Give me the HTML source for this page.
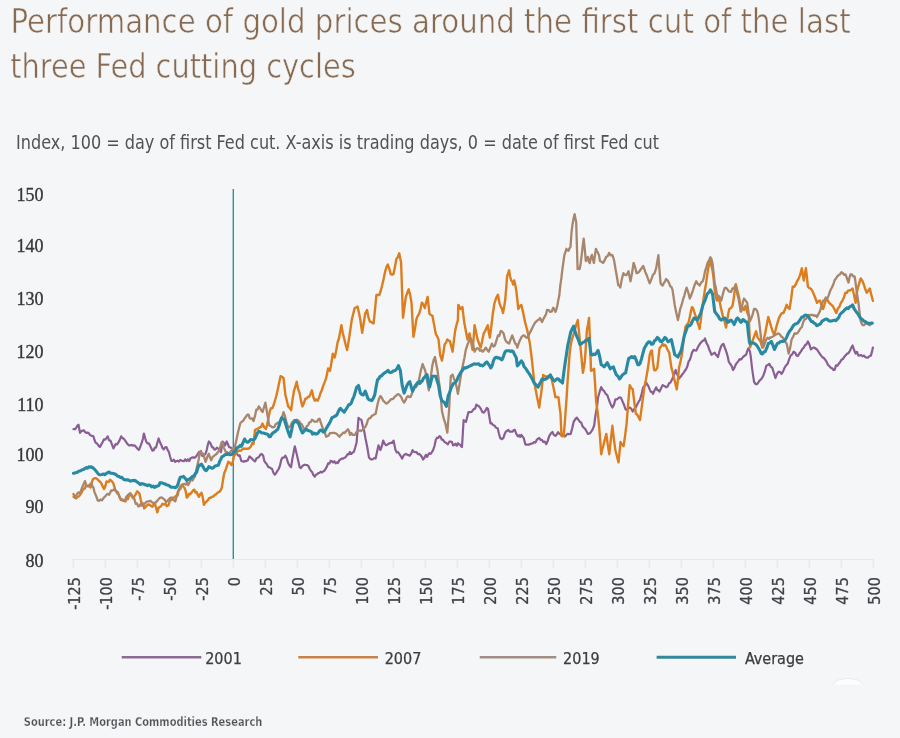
<!DOCTYPE html>
<html><head><meta charset="utf-8"><title>Performance of gold prices around the first cut of the last three Fed cutting cycles</title>
<style>
html,body{margin:0;padding:0;background:#f5f6f8;}
body{width:900px;height:738px;overflow:hidden;}
svg{display:block;}
text{font-family:"Liberation Sans",Arial,sans-serif;}
.ser{font-family:"Liberation Serif","Times New Roman",serif;}
.ttl{font-family:"DejaVu Sans Condensed","DejaVu Sans","Liberation Sans",sans-serif;font-stretch:condensed;}
</style></head><body>
<svg width="900" height="738" viewBox="0 0 900 738">
<rect x="0" y="0" width="900" height="738" fill="#f5f6f8"/>
<text x="10.6" y="32.6" class="ttl" font-size="33" fill="#876a50" stroke="#f5f6f8" stroke-width="0.55" textLength="840" lengthAdjust="spacingAndGlyphs">Performance of gold prices around the first cut of the last</text>
<text x="10.2" y="77.7" class="ttl" font-size="33" fill="#876a50" stroke="#f5f6f8" stroke-width="0.55" textLength="345.5" lengthAdjust="spacingAndGlyphs">three Fed cutting cycles</text>
<text x="16" y="149" class="ttl" font-size="19" fill="#505256" textLength="643" lengthAdjust="spacingAndGlyphs">Index, 100 = day of first Fed cut. X-axis is trading days, 0 = date of first Fed cut</text>

<text class="ser" x="43.6" y="201.3" font-size="18" fill="#36373a" stroke="#36373a" stroke-width="0.35" text-anchor="end">150</text>
<text class="ser" x="43.6" y="252.2" font-size="18" fill="#36373a" stroke="#36373a" stroke-width="0.35" text-anchor="end">140</text>
<text class="ser" x="43.6" y="304.7" font-size="18" fill="#36373a" stroke="#36373a" stroke-width="0.35" text-anchor="end">130</text>
<text class="ser" x="43.6" y="357.5" font-size="18" fill="#36373a" stroke="#36373a" stroke-width="0.35" text-anchor="end">120</text>
<text class="ser" x="43.6" y="410.9" font-size="18" fill="#36373a" stroke="#36373a" stroke-width="0.35" text-anchor="end">110</text>
<text class="ser" x="43.6" y="460.8" font-size="18" fill="#36373a" stroke="#36373a" stroke-width="0.35" text-anchor="end">100</text>
<text class="ser" x="43.6" y="513.3" font-size="18" fill="#36373a" stroke="#36373a" stroke-width="0.35" text-anchor="end">90</text>
<text class="ser" x="43.6" y="566.7" font-size="18" fill="#36373a" stroke="#36373a" stroke-width="0.35" text-anchor="end">80</text>
<line x1="72.5" y1="559.5" x2="873.5" y2="559.5" stroke="#e6e8ec" stroke-width="1.2"/>
<line x1="73.3" y1="559.5" x2="73.3" y2="567.5" stroke="#e8eaee" stroke-width="1.6"/>
<text class="ttl" transform="translate(79.7,577.2) rotate(-90)" font-size="16" fill="#404246" stroke="#404246" stroke-width="0.3" text-anchor="end">-125</text>
<line x1="105.3" y1="559.5" x2="105.3" y2="567.5" stroke="#e8eaee" stroke-width="1.6"/>
<text class="ttl" transform="translate(111.7,577.2) rotate(-90)" font-size="16" fill="#404246" stroke="#404246" stroke-width="0.3" text-anchor="end">-100</text>
<line x1="137.3" y1="559.5" x2="137.3" y2="567.5" stroke="#e8eaee" stroke-width="1.6"/>
<text class="ttl" transform="translate(143.7,577.2) rotate(-90)" font-size="16" fill="#404246" stroke="#404246" stroke-width="0.3" text-anchor="end">-75</text>
<line x1="169.3" y1="559.5" x2="169.3" y2="567.5" stroke="#e8eaee" stroke-width="1.6"/>
<text class="ttl" transform="translate(175.7,577.2) rotate(-90)" font-size="16" fill="#404246" stroke="#404246" stroke-width="0.3" text-anchor="end">-50</text>
<line x1="201.3" y1="559.5" x2="201.3" y2="567.5" stroke="#e8eaee" stroke-width="1.6"/>
<text class="ttl" transform="translate(207.7,577.2) rotate(-90)" font-size="16" fill="#404246" stroke="#404246" stroke-width="0.3" text-anchor="end">-25</text>
<line x1="233.3" y1="559.5" x2="233.3" y2="567.5" stroke="#e8eaee" stroke-width="1.6"/>
<text class="ttl" transform="translate(239.7,577.2) rotate(-90)" font-size="16" fill="#404246" stroke="#404246" stroke-width="0.3" text-anchor="end">0</text>
<line x1="265.3" y1="559.5" x2="265.3" y2="567.5" stroke="#e8eaee" stroke-width="1.6"/>
<text class="ttl" transform="translate(271.7,577.2) rotate(-90)" font-size="16" fill="#404246" stroke="#404246" stroke-width="0.3" text-anchor="end">25</text>
<line x1="297.3" y1="559.5" x2="297.3" y2="567.5" stroke="#e8eaee" stroke-width="1.6"/>
<text class="ttl" transform="translate(303.7,577.2) rotate(-90)" font-size="16" fill="#404246" stroke="#404246" stroke-width="0.3" text-anchor="end">50</text>
<line x1="329.3" y1="559.5" x2="329.3" y2="567.5" stroke="#e8eaee" stroke-width="1.6"/>
<text class="ttl" transform="translate(335.7,577.2) rotate(-90)" font-size="16" fill="#404246" stroke="#404246" stroke-width="0.3" text-anchor="end">75</text>
<line x1="361.3" y1="559.5" x2="361.3" y2="567.5" stroke="#e8eaee" stroke-width="1.6"/>
<text class="ttl" transform="translate(367.7,577.2) rotate(-90)" font-size="16" fill="#404246" stroke="#404246" stroke-width="0.3" text-anchor="end">100</text>
<line x1="393.3" y1="559.5" x2="393.3" y2="567.5" stroke="#e8eaee" stroke-width="1.6"/>
<text class="ttl" transform="translate(399.7,577.2) rotate(-90)" font-size="16" fill="#404246" stroke="#404246" stroke-width="0.3" text-anchor="end">125</text>
<line x1="425.3" y1="559.5" x2="425.3" y2="567.5" stroke="#e8eaee" stroke-width="1.6"/>
<text class="ttl" transform="translate(431.7,577.2) rotate(-90)" font-size="16" fill="#404246" stroke="#404246" stroke-width="0.3" text-anchor="end">150</text>
<line x1="457.3" y1="559.5" x2="457.3" y2="567.5" stroke="#e8eaee" stroke-width="1.6"/>
<text class="ttl" transform="translate(463.7,577.2) rotate(-90)" font-size="16" fill="#404246" stroke="#404246" stroke-width="0.3" text-anchor="end">175</text>
<line x1="489.3" y1="559.5" x2="489.3" y2="567.5" stroke="#e8eaee" stroke-width="1.6"/>
<text class="ttl" transform="translate(495.7,577.2) rotate(-90)" font-size="16" fill="#404246" stroke="#404246" stroke-width="0.3" text-anchor="end">200</text>
<line x1="521.3" y1="559.5" x2="521.3" y2="567.5" stroke="#e8eaee" stroke-width="1.6"/>
<text class="ttl" transform="translate(527.7,577.2) rotate(-90)" font-size="16" fill="#404246" stroke="#404246" stroke-width="0.3" text-anchor="end">225</text>
<line x1="553.3" y1="559.5" x2="553.3" y2="567.5" stroke="#e8eaee" stroke-width="1.6"/>
<text class="ttl" transform="translate(559.7,577.2) rotate(-90)" font-size="16" fill="#404246" stroke="#404246" stroke-width="0.3" text-anchor="end">250</text>
<line x1="585.3" y1="559.5" x2="585.3" y2="567.5" stroke="#e8eaee" stroke-width="1.6"/>
<text class="ttl" transform="translate(591.7,577.2) rotate(-90)" font-size="16" fill="#404246" stroke="#404246" stroke-width="0.3" text-anchor="end">275</text>
<line x1="617.3" y1="559.5" x2="617.3" y2="567.5" stroke="#e8eaee" stroke-width="1.6"/>
<text class="ttl" transform="translate(623.7,577.2) rotate(-90)" font-size="16" fill="#404246" stroke="#404246" stroke-width="0.3" text-anchor="end">300</text>
<line x1="649.3" y1="559.5" x2="649.3" y2="567.5" stroke="#e8eaee" stroke-width="1.6"/>
<text class="ttl" transform="translate(655.7,577.2) rotate(-90)" font-size="16" fill="#404246" stroke="#404246" stroke-width="0.3" text-anchor="end">325</text>
<line x1="681.3" y1="559.5" x2="681.3" y2="567.5" stroke="#e8eaee" stroke-width="1.6"/>
<text class="ttl" transform="translate(687.7,577.2) rotate(-90)" font-size="16" fill="#404246" stroke="#404246" stroke-width="0.3" text-anchor="end">350</text>
<line x1="713.3" y1="559.5" x2="713.3" y2="567.5" stroke="#e8eaee" stroke-width="1.6"/>
<text class="ttl" transform="translate(719.7,577.2) rotate(-90)" font-size="16" fill="#404246" stroke="#404246" stroke-width="0.3" text-anchor="end">375</text>
<line x1="745.3" y1="559.5" x2="745.3" y2="567.5" stroke="#e8eaee" stroke-width="1.6"/>
<text class="ttl" transform="translate(751.7,577.2) rotate(-90)" font-size="16" fill="#404246" stroke="#404246" stroke-width="0.3" text-anchor="end">400</text>
<line x1="777.3" y1="559.5" x2="777.3" y2="567.5" stroke="#e8eaee" stroke-width="1.6"/>
<text class="ttl" transform="translate(783.7,577.2) rotate(-90)" font-size="16" fill="#404246" stroke="#404246" stroke-width="0.3" text-anchor="end">425</text>
<line x1="809.3" y1="559.5" x2="809.3" y2="567.5" stroke="#e8eaee" stroke-width="1.6"/>
<text class="ttl" transform="translate(815.7,577.2) rotate(-90)" font-size="16" fill="#404246" stroke="#404246" stroke-width="0.3" text-anchor="end">450</text>
<line x1="841.3" y1="559.5" x2="841.3" y2="567.5" stroke="#e8eaee" stroke-width="1.6"/>
<text class="ttl" transform="translate(847.7,577.2) rotate(-90)" font-size="16" fill="#404246" stroke="#404246" stroke-width="0.3" text-anchor="end">475</text>
<line x1="873.3" y1="559.5" x2="873.3" y2="567.5" stroke="#e8eaee" stroke-width="1.6"/>
<text class="ttl" transform="translate(879.7,577.2) rotate(-90)" font-size="16" fill="#404246" stroke="#404246" stroke-width="0.3" text-anchor="end">500</text>
<line x1="233.3" y1="189" x2="233.3" y2="559" stroke="#348c9e" stroke-width="1.4"/>
<g fill="none" stroke-linejoin="round" stroke-linecap="round">
<polyline points="73.5,429.2 74.8,429.2 76.0,428.2 77.2,425.9 78.5,424.7 80.0,432.8 81.4,431.1 82.8,430.6 84.0,430.4 85.1,432.1 86.3,432.8 87.5,432.6 88.7,433.0 89.9,434.9 91.1,435.5 92.2,435.9 93.4,436.3 94.5,440.0 95.6,442.7 97.0,443.4 98.5,445.6 99.9,447.0 101.3,444.4 102.7,442.0 104.0,439.3 105.2,439.6 106.5,438.0 107.7,436.3 109.1,440.5 110.5,440.6 112.0,444.7 113.4,448.4 114.5,446.2 115.5,444.2 116.9,444.5 118.3,442.7 119.8,439.7 121.2,436.3 122.4,438.3 123.5,438.4 124.7,439.9 126.2,442.2 127.6,444.2 129.0,445.3 130.5,445.3 131.9,444.9 133.3,445.7 134.7,445.4 136.1,447.0 137.6,448.8 139.0,449.9 140.4,446.4 141.8,442.7 142.9,438.7 143.9,433.5 145.0,437.6 146.1,441.3 147.5,443.3 148.9,443.4 150.1,445.8 151.3,448.4 152.5,450.6 153.7,450.2 154.8,447.7 156.0,447.7 157.3,442.8 158.6,438.5 160.0,442.3 161.2,444.7 162.4,448.0 163.8,449.4 165.1,447.4 166.5,447.2 167.7,450.2 168.9,452.0 170.2,457.0 171.4,461.0 172.6,460.8 173.9,459.7 175.1,461.8 176.3,461.0 177.6,460.7 178.9,461.6 180.2,459.9 181.5,460.6 182.8,461.0 184.0,461.2 185.2,459.3 186.6,461.1 187.9,459.3 189.3,461.0 190.5,458.2 191.7,457.7 193.1,457.4 194.4,457.8 195.8,456.9 197.4,454.6 199.0,452.0 200.1,453.6 201.2,453.9 202.3,456.1 203.9,455.4 205.5,453.7 206.6,450.6 207.7,445.2 208.8,441.5 210.4,443.1 212.0,447.2 213.1,447.4 214.2,449.4 215.3,449.6 216.9,447.7 218.5,448.8 219.8,450.3 221.0,452.0 222.6,441.5 223.8,442.7 225.0,445.5 226.7,441.5 227.9,444.2 229.1,447.2 230.3,447.4 231.5,448.0 232.8,450.0 234.0,452.0 235.2,454.1 236.4,453.7 237.5,454.6 238.6,455.9 239.7,455.3 241.3,461.0 242.5,461.3 243.7,461.8 245.1,460.9 246.4,461.1 247.8,460.2 249.4,456.5 251.0,457.7 252.1,458.8 253.2,460.0 254.3,461.0 255.0,461.4 256.4,458.5 257.8,457.6 259.1,456.8 260.3,454.7 261.6,453.9 263.1,455.6 264.5,461.4 265.8,463.1 267.0,464.4 268.3,467.1 269.6,467.3 270.8,468.2 272.1,469.0 273.5,472.9 274.9,474.7 276.2,472.9 277.4,470.9 278.7,469.0 280.0,465.5 281.2,459.9 282.5,457.6 283.9,457.7 285.4,455.7 286.8,458.6 288.2,463.3 289.6,465.6 291.1,467.1 292.3,459.2 293.6,452.4 294.8,446.3 296.7,453.9 298.1,460.2 299.6,467.1 300.9,468.1 302.1,466.4 303.4,465.2 304.7,464.7 305.9,465.0 307.2,465.2 308.5,466.1 309.7,469.0 311.0,470.9 312.3,472.3 313.5,475.3 314.8,476.6 316.0,474.5 317.1,474.4 318.3,473.0 319.5,472.8 320.7,471.7 321.9,472.5 323.1,471.5 324.3,470.9 325.6,468.9 326.8,466.8 328.1,463.3 329.4,463.6 330.6,460.9 331.9,461.4 333.1,462.5 334.4,461.2 335.6,463.3 336.8,462.3 338.0,463.0 339.2,460.3 340.4,459.5 341.6,458.7 342.8,458.7 343.9,458.1 345.1,457.6 346.3,456.2 347.5,454.2 348.7,454.3 349.9,452.0 350.0,453.9 351.3,454.0 352.5,452.5 353.8,452.0 355.2,447.5 356.6,442.5 358.5,417.8 359.9,419.3 361.4,419.7 362.8,426.3 364.2,431.1 365.6,439.0 367.1,446.3 369.0,457.6 370.4,459.1 371.8,459.5 373.1,459.0 374.3,458.0 375.6,458.6 377.1,451.5 378.5,445.3 380.4,450.1 381.8,446.2 383.2,440.6 384.6,443.8 386.1,445.3 387.3,444.8 388.6,443.6 389.8,443.4 391.1,442.7 392.3,442.9 393.6,440.6 395.5,450.1 396.8,452.5 398.0,452.1 399.3,453.9 400.8,456.2 402.2,458.6 403.5,455.8 404.7,454.5 406.0,453.9 407.3,454.7 408.5,455.1 409.8,455.7 411.2,453.7 412.6,450.1 413.9,451.8 415.1,452.1 416.4,452.0 417.9,454.1 419.3,453.9 420.6,455.3 421.8,456.7 423.1,459.5 424.5,457.6 425.9,454.8 427.1,456.9 428.2,454.7 429.4,453.1 430.6,453.9 431.9,452.1 433.2,449.9 434.5,446.0 435.8,439.7 437.0,437.7 438.2,438.0 439.4,436.2 440.6,436.8 441.7,439.6 442.9,439.7 444.1,441.5 445.2,442.3 446.4,443.2 447.9,444.3 449.3,441.7 450.8,441.5 452.0,442.1 453.1,445.4 454.3,445.0 455.5,443.7 456.7,445.7 457.9,443.2 459.1,444.4 460.2,444.7 461.4,446.8 462.0,447.0 463.6,420.2 464.8,421.0 466.0,421.8 467.2,417.0 468.5,412.0 470.1,412.2 471.7,412.0 472.9,410.2 474.1,408.8 475.2,408.6 476.3,404.6 477.4,405.5 478.6,405.9 479.8,407.2 481.1,409.4 482.3,412.0 483.9,412.7 485.5,410.4 486.8,407.9 488.0,408.8 489.2,415.8 490.4,423.4 491.6,423.2 492.8,425.0 494.1,425.3 495.3,426.7 496.5,428.0 497.7,428.3 498.9,433.5 500.2,438.0 501.8,439.2 503.4,438.0 504.6,434.2 505.9,431.5 507.1,430.9 508.3,429.9 509.9,431.7 511.5,431.5 512.6,431.7 513.7,430.1 514.8,429.9 516.4,434.1 518.0,436.4 519.1,435.1 520.2,436.9 521.3,434.8 522.5,436.5 523.7,438.0 525.4,444.6 527.0,444.5 528.6,444.6 530.0,444.1 531.4,443.6 532.7,443.4 534.1,442.0 535.4,442.5 536.7,439.9 537.9,438.7 539.2,438.0 540.5,439.8 541.9,439.9 543.2,442.0 544.8,441.6 546.3,444.1 547.8,440.7 549.3,435.9 550.8,433.6 552.4,431.9 553.9,434.9 555.4,435.9 556.8,434.4 558.1,432.1 559.5,433.9 560.9,434.8 562.2,435.4 563.6,435.9 564.9,436.6 566.3,435.0 567.6,433.9 569.2,434.2 570.7,433.9 572.2,428.3 573.7,421.7 575.2,419.3 576.8,417.6 578.3,419.7 579.8,421.7 581.2,422.6 582.5,426.2 583.9,427.8 585.3,429.1 586.6,431.5 588.0,433.9 589.5,433.5 591.0,431.9 592.5,429.6 594.1,425.8 595.1,417.8 596.1,411.5 597.1,406.1 598.1,397.3 599.7,391.7 601.2,387.1 602.7,389.9 604.2,391.2 605.8,394.0 607.3,395.2 608.8,399.5 610.3,403.4 611.3,405.6 612.4,407.5 613.9,404.9 615.4,399.3 616.8,399.4 618.1,398.3 619.5,397.3 621.0,397.8 622.5,401.4 624.0,404.8 625.6,409.5 627.0,409.8 628.3,408.3 629.7,407.5 631.2,408.7 632.7,411.5 634.2,409.0 635.8,407.5 637.3,404.2 638.8,401.4 640.0,399.8 641.6,394.1 643.2,387.3 644.3,386.2 645.4,385.3 646.5,383.0 648.1,385.5 649.7,389.4 650.8,391.7 651.9,391.9 653.0,393.8 654.6,390.3 656.2,387.3 657.3,390.2 658.4,390.2 659.5,391.6 661.1,388.2 662.7,385.1 663.8,385.7 664.9,386.2 666.0,387.3 667.6,386.5 669.2,383.0 670.3,382.7 671.4,380.7 672.5,378.6 674.1,374.5 675.7,370.0 676.8,373.8 677.9,375.7 679.0,378.6 680.6,376.8 682.2,374.3 683.3,373.2 684.4,371.5 685.5,370.0 687.1,367.1 688.7,361.3 689.8,359.9 690.9,356.6 692.0,352.6 693.6,349.9 695.2,350.5 696.3,350.6 697.4,348.2 698.5,346.1 700.1,343.6 701.7,341.8 702.8,340.7 703.9,340.6 705.0,338.5 706.6,343.3 708.2,346.1 709.3,349.7 710.4,352.0 711.5,354.8 713.1,353.7 714.7,352.6 715.8,354.8 716.9,355.5 718.0,357.0 719.6,350.8 721.2,346.1 722.3,344.5 723.4,344.0 725.0,348.2 726.6,352.6 727.7,356.5 728.8,361.8 729.9,363.5 731.5,365.6 733.1,370.0 734.2,368.2 735.3,365.6 736.4,363.5 738.0,361.6 739.6,359.1 740.7,359.6 741.8,358.8 742.9,357.0 744.5,355.8 746.1,354.8 747.2,351.1 748.3,348.3 750.0,351.6 751.0,358.5 752.0,367.8 753.0,374.8 754.1,382.0 755.6,384.1 757.1,384.1 758.7,381.8 760.2,380.0 761.7,378.5 763.2,375.9 764.8,371.5 766.3,365.8 767.8,365.1 769.3,363.8 770.8,366.7 772.3,367.8 773.8,372.8 775.4,378.0 776.9,374.2 778.4,371.9 780.0,371.9 781.5,373.9 783.0,371.6 784.5,367.8 786.0,365.5 787.6,363.8 789.1,359.4 790.6,355.6 792.2,354.3 793.7,351.6 795.2,352.9 796.7,355.6 798.1,355.8 799.4,353.5 800.8,351.6 802.3,349.1 803.8,347.5 805.2,344.9 806.5,344.4 807.9,341.4 809.4,344.4 810.9,349.5 812.5,348.0 814.0,347.5 815.5,348.5 817.0,349.5 818.4,351.7 819.7,353.6 821.1,355.6 822.5,357.3 823.8,358.0 825.2,359.7 826.5,361.6 827.9,364.8 829.2,365.8 830.6,367.7 831.9,368.1 833.3,369.8 834.6,369.9 836.0,365.4 837.3,365.8 838.7,363.8 840.0,362.3 841.4,359.7 842.8,359.2 844.1,357.1 845.5,355.6 846.8,353.9 848.2,353.4 849.5,351.6 851.0,348.4 852.6,345.5 854.1,350.0 855.6,353.6 857.0,351.8 858.3,355.3 859.7,355.6 861.1,354.9 862.4,356.4 863.8,355.6 865.1,356.9 866.5,357.6 867.8,357.7 869.3,356.3 870.9,355.6 871.9,351.9 872.9,347.5" stroke="#8a5e95" stroke-width="2.2"/>
<polyline points="73.5,494.0 75.0,498.1 76.4,498.2 77.8,496.6 79.2,496.1 80.6,494.1 82.1,491.5 83.5,489.0 84.7,488.7 85.8,485.9 87.0,486.1 88.2,486.2 89.4,486.4 90.6,487.5 91.7,482.7 92.7,479.7 93.9,478.5 95.1,478.3 96.3,478.3 97.7,479.5 99.1,481.1 100.5,482.1 102.0,484.7 103.0,487.2 104.1,489.0 105.3,486.2 106.5,481.5 107.7,481.9 108.8,481.8 110.0,479.7 111.5,480.9 113.1,482.8 114.2,486.1 115.4,490.6 116.6,491.6 117.8,492.1 119.3,496.2 120.9,499.9 122.1,500.3 123.2,499.9 124.4,501.2 125.6,501.4 126.8,498.3 127.9,499.1 129.0,495.1 130.2,494.4 131.8,496.2 133.3,498.3 134.6,496.0 135.9,493.8 137.2,491.3 138.3,492.3 139.5,493.7 140.7,499.5 141.9,504.5 143.1,503.4 144.2,508.4 145.5,506.9 146.8,505.6 148.1,504.5 149.6,504.8 151.2,506.1 152.5,506.8 153.8,504.1 155.1,504.5 156.2,508.2 157.4,512.3 158.6,507.8 159.8,506.9 161.1,506.2 162.4,503.8 163.7,504.5 165.2,503.8 166.8,506.1 168.4,505.3 169.9,500.7 171.2,500.2 172.5,498.5 173.8,497.6 175.4,496.4 176.9,495.2 178.1,490.8 179.2,489.0 180.6,485.8 182.0,484.6 183.2,486.5 184.4,487.8 185.6,490.8 186.8,497.6 187.9,496.6 189.0,493.8 190.1,494.3 191.7,492.2 193.3,490.2 194.4,489.7 195.5,492.7 196.6,491.9 197.8,495.1 199.0,496.7 200.2,494.1 201.5,492.7 202.7,497.1 203.9,504.9 205.3,502.5 206.6,501.5 208.0,500.0 209.3,497.9 210.7,497.9 212.0,496.7 213.4,496.6 214.7,494.9 216.1,494.3 217.7,492.6 219.3,491.9 220.6,490.4 221.8,487.8 223.0,480.1 224.2,473.2 225.4,470.6 226.7,466.7 228.3,461.8 229.9,463.0 231.5,465.0 232.8,461.8 234.0,456.1 235.6,453.7 237.2,452.0 238.6,450.4 239.9,450.9 241.3,450.4 242.4,449.2 243.5,448.4 244.6,448.8 246.2,448.6 247.8,448.8 249.4,448.1 251.0,446.3 252.2,443.1 253.5,443.9 255.0,430.0 256.5,429.1 258.0,428.5 259.5,427.5 261.0,427.0 262.5,423.5 264.0,427.0 265.0,427.8 266.0,429.0 267.2,424.2 268.4,418.3 270.0,410.5 271.1,408.1 272.3,408.2 273.9,404.3 274.9,400.7 276.4,395.5 277.8,389.3 279.2,382.4 280.6,376.1 282.1,377.0 283.5,378.0 285.4,395.0 286.8,400.4 288.2,406.4 289.6,407.9 291.1,410.2 292.5,400.1 293.9,391.2 295.3,386.7 296.7,381.7 298.1,389.1 299.6,393.1 301.0,400.6 302.4,406.4 303.9,403.2 305.3,398.8 306.6,398.6 307.8,397.0 309.1,396.9 310.5,394.0 311.9,390.3 313.4,397.2 314.8,400.7 316.2,399.5 317.6,400.7 319.1,397.5 320.5,393.1 321.9,390.1 323.3,385.5 324.8,381.9 326.2,378.0 328.1,368.5 330.0,370.8 331.4,362.8 332.8,353.7 334.7,357.5 336.1,351.1 337.6,342.4 338.9,338.5 340.1,332.1 341.4,325.3 342.8,333.3 344.2,338.6 345.6,344.5 347.1,350.0 348.5,342.1 349.9,332.9 351.8,319.6 353.2,314.0 354.6,308.2 356.1,307.5 357.5,306.4 358.9,312.5 360.3,319.6 362.2,332.9 363.6,323.9 365.1,313.9 367.0,310.1 368.4,317.0 369.8,321.5 371.1,321.9 372.3,322.9 373.6,323.4 375.0,309.7 376.4,295.0 377.9,295.0 379.3,295.0 380.7,291.0 382.1,285.5 383.6,279.0 385.0,272.2 386.4,267.4 387.8,264.6 389.2,268.4 390.7,274.1 392.1,274.7 393.5,274.1 394.9,267.1 396.4,259.0 397.8,257.1 399.2,253.3 401.1,262.7 403.0,317.7 404.4,307.5 405.8,296.9 407.2,293.2 408.7,289.3 410.1,294.6 411.5,302.6 413.4,336.7 414.9,329.3 416.3,319.6 417.7,315.9 419.1,313.9 420.5,309.1 421.9,302.6 423.4,304.4 424.8,308.2 426.2,302.0 427.6,296.9 429.5,313.9 430.9,315.0 432.4,315.8 433.2,320.0 434.5,326.7 435.8,334.1 437.1,336.1 438.5,339.4 440.2,355.2 442.0,360.5 443.3,353.3 444.6,344.6 446.0,342.6 447.3,339.4 448.6,340.6 449.9,341.1 451.2,346.1 452.6,351.7 453.9,340.4 455.2,330.6 456.5,324.9 457.9,320.0 458.3,304.9 459.3,306.5 460.3,309.0 461.4,308.0 462.4,307.0 463.4,315.7 464.4,323.2 465.9,331.2 467.5,339.5 468.5,335.8 469.5,333.4 471.0,341.0 472.5,349.7 473.6,338.5 474.6,325.2 476.1,332.5 477.6,339.5 479.1,343.7 480.7,347.6 482.2,340.7 483.7,333.4 485.1,331.2 486.4,328.0 487.8,325.2 488.8,332.3 489.8,337.5 491.4,325.9 492.9,313.0 494.4,303.5 495.9,298.8 496.9,296.6 498.0,294.7 499.5,303.4 501.0,307.0 502.0,308.9 503.0,313.0 504.1,307.0 505.1,300.8 506.1,289.5 507.1,276.4 508.1,273.3 509.1,270.3 510.1,276.5 511.2,280.5 512.2,281.5 513.2,284.6 514.2,280.5 515.2,284.5 516.3,290.7 517.3,299.7 518.3,309.0 519.8,306.3 521.3,304.9 522.8,311.1 524.4,319.1 526.0,325.7 527.5,331.4 528.8,338.1 530.0,344.4 531.0,352.6 532.0,360.7 533.0,370.5 534.1,381.0 535.6,389.4 537.1,397.3 538.2,402.3 539.2,407.5 540.2,399.7 541.2,393.2 542.2,384.5 543.2,374.9 544.8,376.2 546.3,376.9 547.6,376.3 549.0,376.2 550.3,374.9 551.8,380.1 553.4,387.1 554.4,392.1 555.4,397.3 557.0,396.9 558.5,397.3 559.5,406.6 560.5,413.6 561.5,435.9 562.5,436.3 563.6,435.9 564.6,425.5 565.6,411.5 566.6,397.6 567.6,381.0 568.7,366.4 569.7,352.5 570.7,345.5 571.7,340.3 573.2,335.7 574.7,330.2 576.2,324.9 577.8,320.0 579.3,335.1 580.8,350.5 581.8,360.8 582.9,372.9 583.9,367.3 584.9,360.7 585.9,345.6 586.9,330.2 588.0,324.4 589.0,318.0 590.0,340.3 591.0,370.8 592.5,370.1 594.1,368.8 595.1,384.3 596.1,401.4 597.6,411.7 599.1,425.8 600.2,439.8 601.2,454.2 602.2,449.6 603.2,446.1 604.8,439.6 606.3,433.9 607.8,444.9 609.3,454.2 610.8,439.9 612.4,425.8 613.9,439.3 615.4,450.2 617.0,456.5 618.5,462.4 619.5,452.8 620.5,442.0 622.0,444.5 623.6,446.1 625.1,435.6 626.6,423.7 628.2,403.3 629.7,385.1 631.2,388.0 632.7,389.1 634.2,401.4 635.8,413.6 637.3,414.8 638.8,417.6 640.0,420.0 641.4,409.6 642.9,398.5 644.3,387.3 645.4,382.6 646.5,376.4 647.6,370.0 648.7,362.7 649.7,354.8 650.8,351.3 651.9,350.5 653.0,361.7 654.1,370.0 655.7,370.2 657.3,367.8 658.4,358.7 659.5,348.3 661.1,346.5 662.7,344.0 663.8,345.7 664.9,344.7 666.0,346.1 667.6,349.9 669.2,352.6 670.3,360.2 671.4,367.8 672.5,371.3 673.6,376.8 674.7,380.8 675.8,385.4 676.8,389.4 677.9,380.0 679.0,367.8 680.6,361.0 682.2,352.6 683.3,342.6 684.4,333.6 685.5,326.6 687.1,324.4 688.7,322.3 689.8,317.1 690.9,311.4 692.0,307.1 693.0,308.1 694.1,311.5 695.2,314.9 696.3,317.7 697.4,322.3 698.5,325.0 699.6,328.8 700.7,320.9 701.7,311.5 702.8,304.1 703.9,296.3 705.0,289.2 706.1,283.3 707.2,274.8 708.2,268.2 709.3,263.7 710.4,259.5 711.5,266.4 712.6,270.3 713.7,279.6 714.7,289.8 715.8,296.7 716.9,300.6 718.4,297.1 719.5,301.1 720.6,306.3 721.7,311.2 723.1,317.2 724.6,321.4 726.0,327.5 727.1,321.4 728.2,314.0 729.3,309.0 730.9,308.0 732.5,305.8 733.6,299.6 734.7,290.8 735.8,284.1 737.4,290.8 739.0,297.1 740.1,303.8 741.2,311.2 742.6,307.6 744.1,309.9 745.5,305.8 746.6,309.9 747.7,313.7 748.8,316.6 750.0,347.5 751.5,343.8 753.0,339.4 754.5,335.5 756.1,331.3 757.6,337.4 759.1,339.4 760.7,341.9 762.2,347.5 763.7,340.1 765.2,333.3 766.8,324.8 768.3,317.0 769.8,321.9 771.3,327.2 772.8,331.8 774.4,335.3 775.9,328.6 777.4,323.1 779.0,317.9 780.5,315.0 782.0,313.0 783.5,313.0 785.0,309.3 786.6,304.8 788.1,307.7 789.6,308.9 791.2,298.4 792.7,286.6 794.2,286.9 795.7,284.5 797.2,281.0 798.8,278.4 800.3,274.2 801.8,268.3 802.8,275.0 803.8,280.5 804.8,274.3 805.9,268.3 806.9,276.8 807.9,286.6 809.4,288.3 810.9,288.6 812.5,291.1 814.0,294.7 815.5,298.5 817.0,302.8 818.5,301.0 820.1,300.8 821.6,306.3 823.1,308.9 824.7,303.8 826.2,298.8 827.7,300.4 829.2,302.8 830.6,304.0 831.9,305.3 833.3,306.9 834.8,310.0 836.3,313.0 837.8,308.5 839.4,306.9 840.9,302.9 842.4,300.8 844.0,297.2 845.5,292.7 846.8,292.9 848.2,290.4 849.5,290.6 851.0,289.7 852.6,288.6 854.1,295.2 855.6,302.8 856.7,293.8 857.7,288.6 859.2,283.2 860.7,278.4 862.2,280.5 863.8,284.5 865.3,289.3 866.8,292.7 868.3,290.5 869.8,288.6 871.3,294.7 872.9,300.8" stroke="#dc7d1e" stroke-width="2.4"/>
<polyline points="73.5,496.8 74.7,495.9 75.9,496.0 77.1,494.0 78.3,492.5 79.4,493.4 80.6,491.8 82.0,488.0 83.5,484.4 84.9,481.1 86.3,485.2 87.8,486.1 89.0,485.3 90.1,484.2 91.3,483.3 92.3,486.0 93.4,487.5 94.5,492.1 95.6,494.7 96.7,497.5 97.7,500.3 99.1,500.8 100.6,499.5 102.0,500.3 103.2,498.6 104.3,497.1 105.5,496.1 106.7,494.5 107.9,493.9 109.1,494.7 110.0,492.9 111.2,490.5 112.3,490.7 113.5,489.8 114.7,489.0 116.0,491.1 117.4,493.7 118.8,494.8 120.1,498.3 121.4,499.0 122.7,500.1 124.0,500.7 125.2,499.8 126.3,496.8 127.5,495.6 128.7,494.4 130.2,493.1 131.8,495.2 133.1,497.6 134.4,499.1 135.7,503.8 137.0,503.4 138.2,506.3 139.5,506.1 140.8,503.7 142.1,505.7 143.4,504.5 144.7,503.7 146.0,502.2 147.3,501.4 148.9,501.4 150.4,500.7 151.9,502.3 153.5,503.0 155.1,503.1 156.7,501.4 158.0,499.9 159.2,498.4 160.5,497.6 161.7,497.4 162.9,498.3 164.4,499.4 166.0,502.2 167.6,500.6 169.1,499.1 170.6,497.7 172.2,497.6 173.8,500.4 175.3,501.4 176.5,496.7 177.7,495.2 179.2,489.0 180.3,489.4 181.6,486.1 182.8,484.6 184.4,483.8 186.0,484.6 187.1,482.3 188.2,485.1 189.3,482.9 190.9,479.7 192.5,480.5 193.8,478.2 195.0,476.4 196.2,470.3 197.4,465.0 198.6,459.9 199.8,452.0 200.9,450.9 202.0,454.0 203.1,453.7 204.3,457.1 205.5,461.8 206.6,459.0 207.7,455.8 208.8,453.7 210.0,457.5 211.2,460.2 212.4,457.2 213.7,456.1 215.3,454.8 216.9,453.7 218.0,451.8 219.1,450.9 220.2,447.2 221.4,442.7 222.6,442.3 223.8,447.6 225.0,450.4 226.1,452.3 227.2,452.2 228.3,453.7 229.9,452.3 231.5,450.4 232.6,448.9 233.7,449.7 234.8,447.2 236.4,440.0 238.0,432.5 239.2,427.5 240.5,422.8 241.7,421.8 242.9,421.1 244.0,419.3 245.1,417.7 246.2,416.3 247.4,414.7 248.6,414.6 249.8,418.4 251.0,418.7 252.2,418.3 253.5,421.1 255.0,415.9 256.3,409.7 257.5,409.5 258.8,406.4 260.1,408.2 261.3,410.5 262.6,412.1 264.0,407.2 265.4,402.6 267.3,414.0 269.2,425.4 270.5,425.9 271.7,426.9 273.0,427.3 274.3,426.9 275.5,424.4 276.8,423.5 278.1,422.5 279.3,423.9 280.6,421.6 282.1,417.3 283.5,412.1 284.9,416.0 286.3,421.6 287.8,426.4 289.2,427.3 290.5,426.1 291.7,423.0 293.0,421.6 294.2,420.0 295.5,420.6 296.7,419.7 298.0,420.3 299.2,421.3 300.5,423.5 301.8,424.3 303.0,426.9 304.3,429.2 305.6,428.9 306.8,426.3 308.1,425.4 309.4,422.3 310.6,422.2 311.9,419.7 313.2,420.4 314.4,421.7 315.7,421.6 317.0,421.7 318.2,419.5 319.5,418.7 320.9,422.9 322.4,427.3 323.7,430.4 324.9,432.7 326.2,436.8 327.5,436.1 328.7,435.4 330.0,433.0 331.2,433.1 332.4,432.8 333.5,432.8 334.7,433.0 335.9,433.3 337.0,434.2 338.2,435.5 339.4,436.8 340.6,435.1 341.8,434.5 343.0,432.6 344.2,433.0 345.5,432.0 346.7,430.5 348.0,429.2 349.0,431.1 350.0,434.9 351.3,432.9 352.5,434.9 353.8,434.9 355.0,434.9 356.1,432.4 357.3,431.6 358.5,431.1 359.8,430.3 361.0,431.0 362.3,430.1 363.8,427.9 365.2,427.3 366.6,424.3 368.0,419.7 369.3,418.2 370.5,418.0 371.8,415.9 373.1,415.3 374.3,414.4 375.6,414.0 377.5,404.5 378.9,399.0 380.4,396.0 381.8,397.8 383.2,400.7 384.6,401.9 386.1,403.6 387.3,403.2 388.6,401.9 389.8,400.7 391.0,399.2 392.2,399.1 393.4,398.7 394.6,396.9 395.9,395.8 397.1,394.7 398.4,394.1 399.8,395.2 401.2,396.9 402.6,400.4 404.1,402.6 405.5,400.2 406.9,396.9 408.2,396.1 409.4,397.2 410.7,396.9 412.0,393.3 413.2,389.9 414.5,387.4 415.8,387.2 417.0,385.6 418.3,383.6 420.0,374.6 421.3,368.7 422.6,364.0 424.0,367.6 425.3,371.0 426.5,377.9 427.6,383.4 428.8,390.4 430.0,382.1 431.1,374.6 432.3,365.8 433.6,359.9 435.0,357.0 436.3,364.3 437.6,371.0 438.9,381.3 440.2,390.4 442.0,411.5 443.8,418.6 445.5,423.9 447.3,432.7 449.0,411.5 450.8,376.3 452.6,374.6 453.9,378.5 455.2,381.6 456.5,386.6 457.9,393.9 459.2,386.3 460.5,378.1 461.8,370.3 463.1,364.0 464.5,357.4 465.8,349.9 467.5,344.6 468.9,341.6 470.2,337.6 471.5,340.4 472.8,342.9 474.6,351.7 475.9,349.3 477.2,348.2 478.6,348.6 479.9,350.7 481.3,350.1 482.7,351.7 484.2,350.1 485.8,347.6 487.3,350.1 488.8,351.7 490.4,347.4 491.9,343.6 493.4,346.6 494.9,345.6 496.4,340.6 498.0,335.4 499.3,335.9 500.7,331.0 502.0,331.4 503.6,333.5 505.1,339.5 506.4,341.7 507.8,342.8 509.1,343.6 510.7,339.2 512.2,335.4 513.7,339.5 515.2,343.6 516.2,344.0 517.3,347.6 518.8,343.0 520.3,339.5 521.8,336.6 523.4,335.4 524.8,335.9 526.1,337.6 527.5,337.5 529.0,334.5 530.5,331.4 532.0,328.6 533.6,325.2 535.1,322.6 536.6,321.2 538.2,319.8 539.7,319.1 540.0,318.0 541.0,320.1 542.0,322.0 543.5,318.7 545.1,315.9 546.1,313.9 547.1,309.8 548.7,310.1 550.2,311.9 551.7,311.5 553.2,307.8 554.2,309.0 555.3,311.9 556.3,309.8 557.3,305.8 558.3,300.0 559.3,295.6 560.3,285.4 561.3,278.7 562.4,269.1 563.4,262.1 564.4,254.9 565.4,252.2 566.4,248.8 567.5,250.4 568.5,250.8 569.5,248.3 570.5,246.8 571.5,232.5 572.5,224.5 573.6,218.3 574.6,214.2 576.2,222.4 577.6,269.1 578.7,267.4 579.7,269.1 580.7,263.0 581.7,254.9 582.7,246.2 583.7,238.6 584.8,249.3 585.8,261.0 586.8,258.9 587.8,256.9 588.8,261.6 589.8,263.0 590.8,257.5 591.9,254.9 592.9,259.2 593.9,263.0 594.9,255.6 595.9,248.8 597.0,251.3 598.0,252.9 599.0,255.4 600.0,261.0 601.5,261.7 603.0,263.0 604.5,260.7 606.1,256.9 607.6,256.2 609.1,252.9 610.7,255.3 612.2,254.9 613.2,257.2 614.2,261.0 615.2,267.1 616.3,273.2 617.3,279.2 618.3,285.4 619.3,285.3 620.3,287.5 621.8,279.1 623.4,273.2 624.9,274.8 626.4,275.2 627.5,273.4 628.5,271.2 629.5,276.2 630.5,281.4 632.0,273.2 633.6,263.0 635.1,267.2 636.6,273.2 638.2,272.6 639.7,271.2 640.0,270.3 641.6,268.2 643.2,266.0 644.3,268.8 645.4,272.2 646.5,274.7 648.1,279.1 649.7,283.3 650.8,280.7 651.9,277.8 653.0,274.7 654.6,273.1 656.2,268.2 657.3,261.4 658.4,255.2 659.5,270.1 660.6,283.3 661.7,284.9 662.7,285.5 663.8,283.0 664.9,281.8 666.0,279.0 667.6,280.4 669.2,283.3 670.3,286.5 671.4,286.9 672.5,289.8 673.6,297.0 674.7,305.0 676.3,312.8 677.9,320.1 679.0,315.4 680.1,309.3 681.7,304.7 683.3,298.5 684.4,295.6 685.5,291.1 686.6,287.6 688.2,292.2 689.8,298.5 690.9,296.1 692.0,293.0 693.1,289.8 694.7,284.7 696.3,281.2 697.4,283.5 698.5,284.2 699.6,285.5 701.2,282.5 702.8,281.2 703.9,277.2 705.0,271.4 706.1,268.2 707.2,264.2 708.2,261.7 709.3,259.8 710.4,257.3 711.5,259.2 712.6,263.8 713.7,273.6 714.7,283.3 715.8,287.6 716.9,294.1 718.0,295.8 719.1,296.3 720.2,297.8 721.2,300.6 722.3,296.5 723.4,292.0 724.5,288.5 725.6,287.6 726.7,288.4 727.7,289.8 728.8,291.3 729.9,291.7 731.0,292.0 732.4,288.3 733.9,288.5 735.3,285.5 736.9,292.8 738.5,298.5 739.6,304.7 740.7,311.5 741.8,308.4 742.9,301.9 744.0,298.5 745.6,300.6 747.2,302.8 748.6,312.9 750.0,321.1 751.4,318.1 752.7,314.1 754.1,308.9 755.6,309.0 757.1,310.9 758.1,314.5 759.1,321.1 760.2,330.6 761.2,339.4 762.2,342.2 763.2,347.5 764.8,343.3 766.3,339.4 767.6,337.6 769.0,338.9 770.3,337.3 771.7,337.3 773.0,336.4 774.4,335.3 775.7,334.6 777.1,334.0 778.4,333.3 779.8,334.4 781.1,336.3 782.5,337.3 783.9,339.5 785.2,341.8 786.6,343.4 787.6,348.1 788.6,353.6 790.1,348.1 791.6,339.4 793.2,336.6 794.7,333.3 796.1,333.8 797.4,333.1 798.8,331.3 800.3,328.5 801.8,327.2 803.3,321.7 804.8,319.1 806.2,318.8 807.5,316.0 808.9,315.0 810.3,315.1 811.6,314.8 813.0,315.0 814.3,315.8 815.7,315.3 817.0,317.0 818.5,313.9 820.1,310.9 821.6,305.5 823.1,300.8 824.5,300.1 825.8,297.5 827.2,298.8 828.7,295.4 830.2,290.6 831.8,287.8 833.3,284.5 834.6,280.3 836.0,278.5 837.3,276.4 838.7,275.1 840.0,274.2 841.4,272.3 842.8,273.0 844.1,274.9 845.5,274.4 847.0,278.5 848.5,282.5 849.5,277.6 850.5,274.4 851.9,274.5 853.2,276.4 854.6,276.4 855.6,283.0 856.6,290.6 857.7,298.4 858.7,304.8 859.7,313.8 860.7,321.1 861.7,323.7 862.7,325.2 864.2,325.0 865.8,323.1 867.1,323.7 868.5,324.5 869.8,325.2 871.3,323.6 872.9,323.1" stroke="#a8866c" stroke-width="2.3"/>
<polyline points="73.5,473.3 74.9,472.9 76.4,472.6 77.8,471.9 79.2,471.0 80.7,470.7 82.1,469.8 83.5,469.5 84.9,468.5 86.3,467.6 87.5,468.2 88.8,466.8 90.0,467.1 91.3,466.9 92.5,467.5 93.7,468.4 94.9,469.8 96.3,471.3 97.7,473.2 99.1,474.7 100.5,474.7 102.0,474.5 103.4,474.0 104.8,474.7 106.3,473.5 107.7,472.6 109.1,472.0 110.5,473.2 111.9,473.3 113.3,473.5 114.8,474.0 116.2,474.7 117.6,476.3 119.1,476.5 120.5,477.6 121.9,477.3 123.3,479.2 124.7,479.7 126.1,479.9 127.6,479.8 129.0,480.3 130.4,481.1 131.8,480.6 133.3,480.6 134.7,480.4 136.1,481.2 137.6,482.4 139.0,483.3 140.4,484.6 141.8,483.6 143.3,483.9 144.7,484.7 146.1,484.8 147.5,485.6 148.9,484.9 150.3,485.4 151.7,486.8 153.2,486.1 154.6,487.5 156.0,486.3 157.5,486.1 158.9,485.4 160.0,482.9 161.2,482.7 162.4,483.0 163.7,483.7 164.9,483.7 166.1,484.7 167.4,485.0 168.6,485.4 169.8,486.2 171.2,487.3 172.6,487.2 174.0,487.3 175.4,487.8 176.7,486.8 177.9,484.6 179.1,480.4 180.3,477.2 181.4,477.0 182.5,477.0 183.6,476.4 185.2,478.4 186.8,480.5 188.2,479.4 189.5,479.0 190.9,478.0 192.5,476.5 194.1,475.6 195.3,473.7 196.6,472.4 197.8,468.2 199.0,465.0 200.2,465.3 201.5,464.2 202.7,466.0 203.9,468.3 205.1,470.1 206.3,470.7 207.6,468.9 208.8,466.7 210.4,467.4 212.0,468.3 213.1,467.8 214.2,466.8 215.3,465.9 216.9,465.5 218.5,465.0 219.6,461.6 220.7,459.6 221.8,456.9 223.4,456.1 225.0,454.5 226.1,454.5 227.2,454.5 228.3,453.7 229.9,454.8 231.5,454.5 232.8,453.5 234.0,452.0 235.3,451.4 236.7,448.0 238.0,447.2 239.1,446.8 240.2,445.3 241.3,446.3 242.4,444.3 243.5,441.5 244.6,439.0 246.2,441.5 247.8,442.3 249.2,441.3 250.5,439.6 251.9,439.8 253.4,439.9 255.0,438.7 256.3,435.5 257.5,433.0 258.8,431.1 260.1,431.6 261.3,432.7 262.6,433.0 263.9,433.0 265.1,433.7 266.4,433.9 267.8,434.4 269.2,436.8 270.5,436.4 271.7,434.2 273.0,433.0 274.2,432.1 275.4,431.4 276.6,430.2 277.8,429.2 279.1,425.5 280.3,421.1 281.6,417.8 283.0,418.7 284.4,419.7 285.9,424.7 287.3,429.2 288.7,433.5 290.1,436.8 291.6,430.1 293.0,423.5 294.4,422.1 295.8,420.6 297.2,422.2 298.6,423.5 299.9,427.0 301.1,429.9 302.4,433.0 303.7,431.6 304.9,430.2 306.2,429.2 307.5,430.4 308.7,430.6 310.0,431.1 311.3,431.7 312.5,434.1 313.8,433.0 315.2,433.9 316.7,433.9 318.0,433.1 319.2,431.4 320.5,430.1 321.8,430.2 323.0,431.9 324.3,432.0 325.6,429.8 326.8,427.6 328.1,425.4 329.4,423.4 330.6,420.8 331.9,417.8 333.1,417.3 334.4,416.5 335.6,415.9 336.8,415.0 338.0,412.4 339.2,409.7 340.4,408.3 341.7,409.9 342.9,410.9 344.2,412.1 345.4,410.2 346.5,408.6 347.7,406.5 348.9,404.5 350.0,404.5 351.3,403.0 352.5,399.5 353.8,396.9 355.2,392.3 356.6,387.4 358.5,385.5 360.4,393.1 361.9,394.6 363.3,395.0 365.2,391.2 366.6,394.7 368.0,398.8 369.3,399.9 370.5,400.0 371.8,400.7 373.2,398.4 374.7,395.0 376.1,387.0 377.5,379.8 378.8,378.8 380.0,376.5 381.3,376.1 382.8,374.4 384.2,373.2 385.5,372.3 386.7,371.6 388.0,370.4 389.2,372.0 390.5,372.6 391.7,372.3 393.0,371.0 394.2,370.7 395.5,370.4 396.9,368.6 398.4,365.6 400.3,370.4 402.2,385.5 404.1,393.1 405.5,389.5 406.9,385.5 408.4,382.9 409.8,381.7 411.2,386.7 412.6,391.2 414.1,387.8 415.5,385.5 416.8,383.8 418.0,382.3 419.3,381.7 420.0,383.4 421.2,381.5 422.3,381.0 423.5,378.1 424.7,377.1 425.8,375.7 427.0,374.6 428.4,382.0 429.7,386.9 431.0,381.4 432.3,376.3 433.5,376.2 434.6,376.2 435.8,376.3 437.1,380.9 438.5,385.1 440.2,395.7 442.0,401.0 443.3,401.7 444.6,402.7 446.4,406.3 448.2,395.7 449.5,392.9 450.8,388.7 452.1,385.9 453.5,383.4 454.8,382.8 456.1,381.6 457.3,379.4 458.4,376.5 459.6,374.6 460.8,372.3 461.9,371.0 463.1,369.3 464.3,367.6 465.5,368.1 466.7,367.5 467.9,367.0 469.0,366.4 470.2,365.8 471.4,365.2 472.5,364.8 473.7,364.0 474.9,363.8 476.0,364.3 477.2,364.0 478.6,363.7 479.9,365.4 481.3,365.0 482.7,365.9 484.1,364.8 485.4,363.0 486.8,361.9 488.1,363.7 489.5,365.6 490.8,368.0 492.2,365.3 493.5,360.7 494.9,357.8 496.3,357.2 497.6,357.9 499.0,357.8 500.5,358.9 502.0,359.8 503.6,355.8 505.1,351.7 506.4,350.9 507.8,350.7 509.1,350.7 510.5,351.5 511.8,350.9 513.2,351.7 514.8,355.1 516.3,357.8 517.3,365.9 518.6,364.6 520.0,362.6 521.3,360.8 522.7,362.6 524.0,366.6 525.4,368.0 526.8,370.1 528.1,372.2 529.5,374.1 530.0,374.9 531.4,377.4 532.7,379.8 534.1,383.0 535.4,384.2 536.8,385.8 538.1,387.1 539.5,384.0 540.8,381.8 542.2,379.0 543.6,379.6 544.9,379.2 546.3,379.0 547.6,377.6 549.0,376.8 550.3,374.9 551.7,377.4 553.0,379.4 554.4,381.0 555.8,379.9 557.1,378.8 558.5,379.0 559.8,380.7 561.2,381.7 562.5,383.0 563.5,374.7 564.6,366.8 566.1,356.8 567.6,346.4 569.2,339.1 570.7,332.2 572.2,328.8 573.7,326.1 575.2,332.1 576.8,336.3 578.3,339.6 579.8,344.4 581.3,343.8 582.9,342.4 584.4,341.9 585.9,340.3 587.5,340.2 589.0,338.3 590.0,346.6 591.0,354.6 592.4,354.9 593.7,354.1 595.1,354.6 596.6,352.6 598.1,350.5 599.7,356.6 601.2,364.7 602.7,365.5 604.2,366.8 605.8,364.7 607.3,362.7 608.8,365.7 610.3,368.8 611.8,367.6 613.4,366.8 614.9,371.4 616.4,374.9 618.0,376.2 619.5,379.0 621.0,377.0 622.5,374.9 624.0,373.7 625.6,372.9 627.1,365.8 628.6,358.6 630.2,357.6 631.7,356.6 633.2,357.6 634.7,356.6 636.2,360.1 637.8,364.7 638.9,364.8 640.0,363.5 641.4,359.1 642.9,353.3 644.3,348.3 645.8,345.8 647.2,343.4 648.7,341.8 650.1,342.1 651.6,344.3 653.0,344.0 654.4,340.8 655.9,339.9 657.3,337.5 658.8,338.6 660.2,341.3 661.7,341.8 663.3,339.8 664.9,337.5 666.0,338.3 667.1,340.1 668.2,341.8 669.8,340.8 671.4,339.6 672.5,344.7 673.6,349.3 674.7,354.8 676.3,355.8 677.9,357.0 679.0,354.6 680.1,352.9 681.2,350.5 682.8,343.0 684.4,335.3 686.0,331.1 687.6,326.6 688.7,325.6 689.8,325.6 690.9,324.5 692.5,321.0 694.1,318.0 695.2,318.3 696.3,319.2 697.4,320.1 699.0,316.7 700.6,313.6 701.7,309.8 702.8,305.4 703.9,302.8 705.5,299.1 707.1,294.1 708.2,293.0 709.3,291.9 710.4,289.8 711.5,291.8 712.6,294.1 713.7,303.2 714.7,311.5 715.8,313.0 716.9,314.4 718.0,315.8 719.6,318.8 721.2,320.1 722.3,319.1 723.4,319.0 724.5,318.0 726.1,319.3 727.7,322.3 728.8,321.8 729.9,320.7 731.0,320.1 732.6,321.8 734.2,324.5 735.3,322.0 736.4,319.1 737.5,318.0 739.1,319.6 740.7,322.3 741.8,321.7 742.9,319.5 744.0,320.1 745.6,321.7 747.2,322.3 748.3,332.5 749.4,341.8 750.0,343.4 751.4,343.0 752.7,342.7 754.1,343.4 755.4,344.1 756.8,345.5 758.1,347.5 759.7,350.2 761.2,353.6 762.5,354.0 763.9,351.7 765.2,351.6 766.8,347.9 768.3,343.4 769.8,343.0 771.3,341.4 772.8,345.0 774.4,349.5 775.9,346.3 777.4,343.4 778.8,343.1 780.1,341.7 781.5,341.4 782.8,341.4 784.2,341.1 785.5,339.4 786.9,336.7 788.2,333.6 789.6,331.3 791.0,329.6 792.3,327.4 793.7,325.2 795.0,324.1 796.4,323.7 797.7,323.1 799.1,321.1 800.4,319.3 801.8,317.0 803.2,316.9 804.5,315.4 805.9,315.0 807.2,315.7 808.6,316.9 809.9,319.1 811.3,321.4 812.6,321.6 814.0,323.1 815.3,323.6 816.7,325.7 818.0,325.2 819.4,324.4 820.7,323.6 822.1,321.1 823.5,320.3 824.8,319.4 826.2,319.1 827.5,319.5 828.9,320.8 830.2,321.1 831.6,321.0 832.9,320.6 834.3,320.1 835.8,320.7 837.3,319.1 838.7,317.7 840.0,314.5 841.4,313.0 842.8,311.9 844.1,310.6 845.5,308.9 846.8,307.9 848.2,308.7 849.5,306.9 851.0,306.3 852.6,304.8 854.1,308.6 855.6,310.9 857.0,312.7 858.3,314.4 859.7,317.0 861.1,318.7 862.4,319.6 863.8,321.1 865.1,321.5 866.5,322.4 867.8,323.1 869.2,323.2 870.5,323.2 871.9,323.1" stroke="#2889a3" stroke-width="3.1"/>
</g>
<line x1="121.7" y1="657.2" x2="201.3" y2="657.2" stroke="#8d6a8e" stroke-width="2.4"/>
<text class="ttl" x="205.20000000000002" y="663.8" font-size="16" fill="#3c3d40" stroke="#3c3d40" stroke-width="0.25">2001</text>
<line x1="298.3" y1="657.2" x2="378" y2="657.2" stroke="#c9834a" stroke-width="2.6"/>
<text class="ttl" x="384.7" y="663.8" font-size="16" fill="#3c3d40" stroke="#3c3d40" stroke-width="0.25">2007</text>
<line x1="479.7" y1="657.2" x2="556.3" y2="657.2" stroke="#a28d82" stroke-width="2.4"/>
<text class="ttl" x="563.1" y="663.8" font-size="16" fill="#3c3d40" stroke="#3c3d40" stroke-width="0.25">2019</text>
<line x1="656.6" y1="657.2" x2="736" y2="657.2" stroke="#35879c" stroke-width="3"/>
<text class="ttl" x="744.9" y="663.8" font-size="16" fill="#3c3d40" stroke="#3c3d40" stroke-width="0.25">Average</text>
<text class="ttl" x="23.8" y="725.8" font-size="13" font-weight="bold" fill="#505256" stroke="#f5f6f8" stroke-width="0.25" textLength="238.5" lengthAdjust="spacingAndGlyphs">Source: J.P. Morgan Commodities Research</text>
<path d="M833.5,684.5 A14.5,6 0 0 1 862.5,684.5 Z" fill="#fdfdfe"/><path d="M833.5,684.5 A14.5,6 0 0 1 862.5,684.5" fill="none" stroke="#e4e6ea" stroke-width="0.9"/>
</svg></body></html>
